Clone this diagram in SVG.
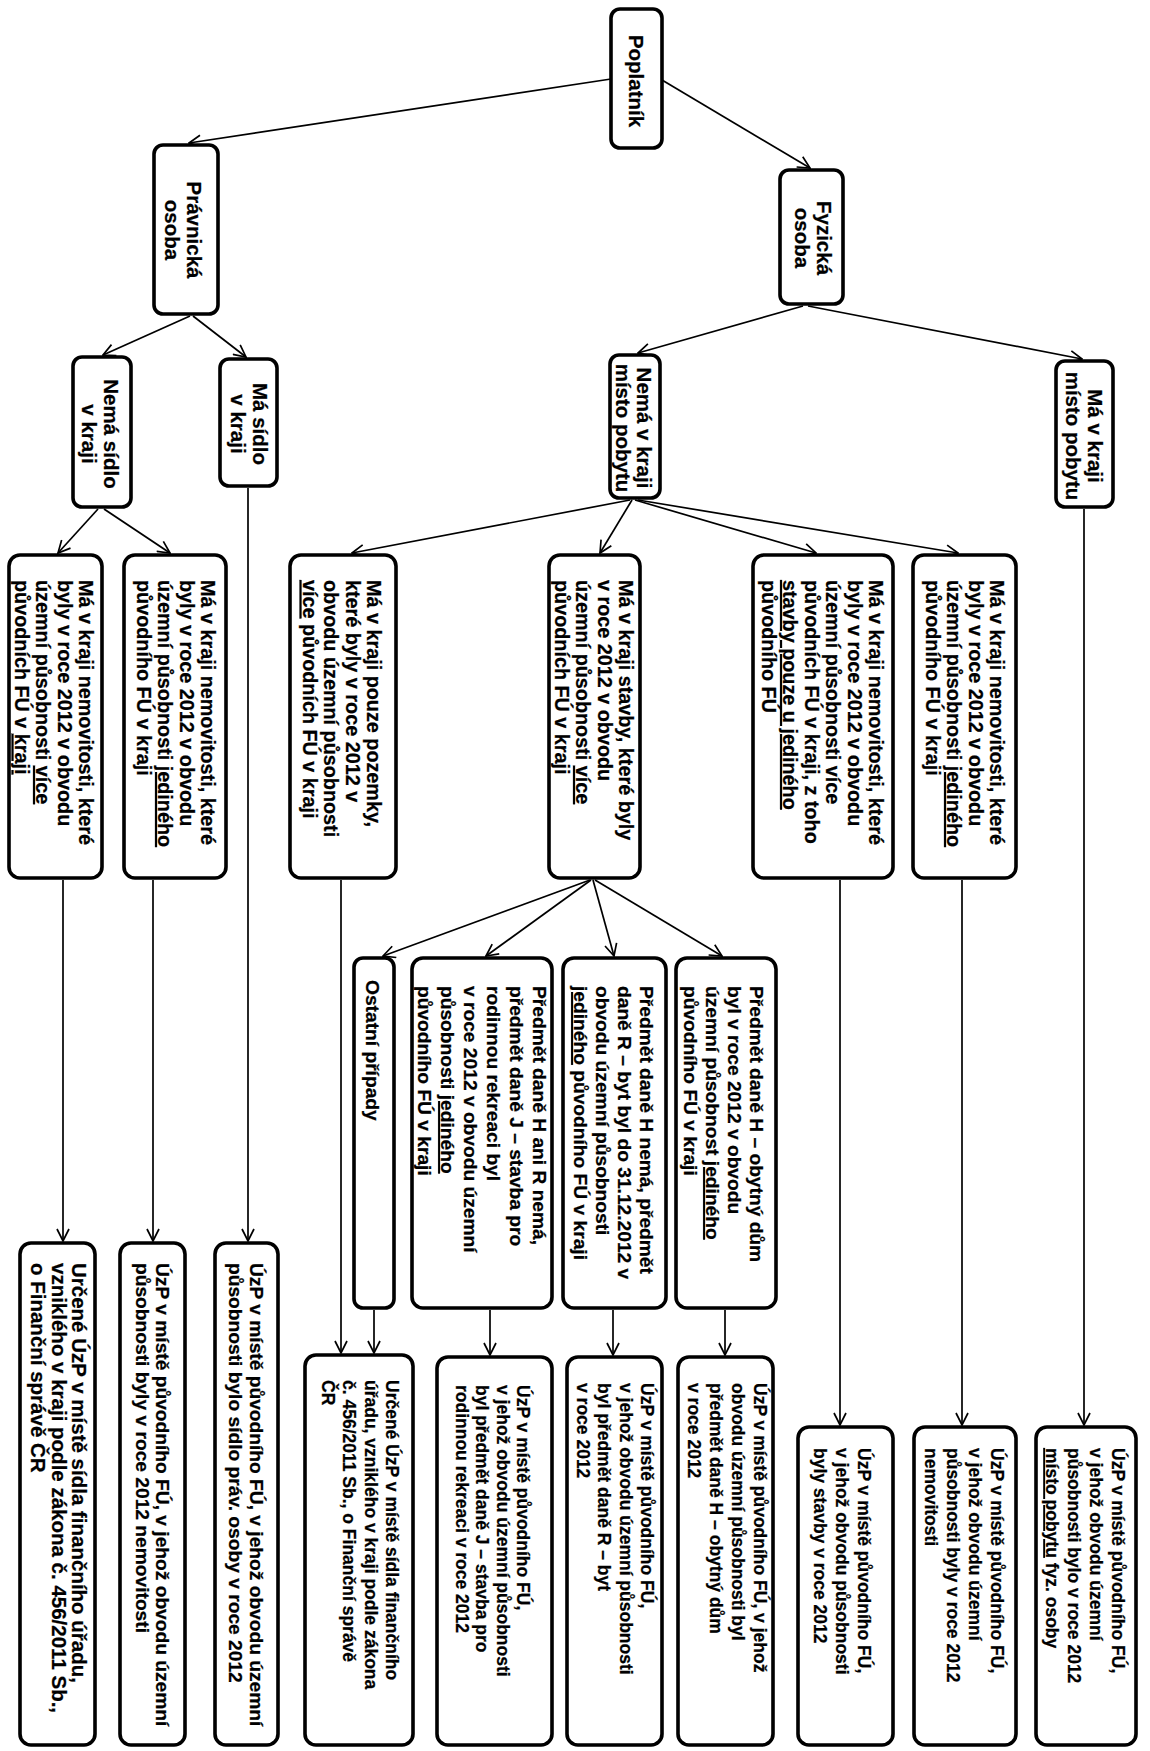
<svg xmlns="http://www.w3.org/2000/svg" width="1150" height="1751" viewBox="0 0 1150 1751">
<style>
.n rect{fill:#fff;stroke:#000;stroke-width:3.6}
text{font-family:"Liberation Sans",Arial,Helvetica,sans-serif;font-weight:bold;fill:#000;stroke:#000;stroke-width:0.25px}
.f20{font-size:20.5px}
.f19{font-size:19.8px}
.f19b{font-size:19.2px}
.f18{font-size:17.5px}
.u{text-decoration:underline}
#connectors path{fill:none;stroke:#000;stroke-width:1.7;marker-end:url(#ah)}
</style>
<defs>
<marker id="ah" viewBox="0 0 14 14" refX="13" refY="7" markerWidth="14" markerHeight="14" markerUnits="userSpaceOnUse" orient="auto">
<path d="M1,1 L13,7 L1,13" fill="none" stroke="#000" stroke-width="1.7"/>
</marker>
</defs>
<rect x="0" y="0" width="1150" height="1751" fill="#fff"/>

<g id="connectors">
<path d="M611,79 L189,143"/>
<path d="M662,80 L810,168"/>
<path d="M190,316 L103,355"/>
<path d="M193,316 L246,357"/>
<path d="M803,306 L638,353"/>
<path d="M808,306 L1082,359"/>
<path d="M98,509 L58,553"/>
<path d="M104,509 L170,553"/>
<path d="M630,500 L352,553"/>
<path d="M632,500 L600,553"/>
<path d="M635,500 L816,553"/>
<path d="M638,500 L958,553"/>
<path d="M590,880 L383,956"/>
<path d="M591,880 L486,956"/>
<path d="M593,880 L614,956"/>
<path d="M595,880 L722,956"/>
<path d="M63,880 L63,1241"/>
<path d="M153,880 L153,1241"/>
<path d="M248,488 L248,1241"/>
<path d="M341,880 L341,1353"/>
<path d="M374,1310 L374,1353"/>
<path d="M490,1310 L490,1355"/>
<path d="M613,1310 L613,1355"/>
<path d="M725,1310 L725,1355"/>
<path d="M840,880 L840,1425"/>
<path d="M962,880 L962,1425"/>
<path d="M1084,509 L1084,1425"/>
</g>

<g id="poplatnik" class="n"><rect x="611" y="9" width="51" height="139" rx="9"/>
<text class="f20" text-anchor="middle" transform="translate(629,81) rotate(90)">Poplatník</text></g>

<g id="pravnicka-osoba" class="n"><rect x="154" y="145" width="64" height="169" rx="9"/>
<text class="f20" text-anchor="middle" transform="translate(187,230) rotate(90)"><tspan x="0" y="0">Právnická</tspan><tspan x="0" y="22">osoba</tspan></text></g>

<g id="fyzicka-osoba" class="n"><rect x="780" y="170" width="63" height="134" rx="9"/>
<text class="f20" text-anchor="middle" transform="translate(817,238) rotate(90)"><tspan x="0" y="0">Fyzická</tspan><tspan x="0" y="22">osoba</tspan></text></g>

<g id="nema-sidlo" class="n"><rect x="73" y="357" width="58" height="150" rx="9"/>
<text class="f20" text-anchor="middle" transform="translate(104,434) rotate(90)"><tspan x="0" y="0">Nemá sídlo</tspan><tspan x="0" y="22">v kraji</tspan></text></g>

<g id="ma-sidlo" class="n"><rect x="220" y="359" width="57" height="127" rx="9"/>
<text class="f20" text-anchor="middle" transform="translate(253,424) rotate(90)"><tspan x="0" y="0">Má sídlo</tspan><tspan x="0" y="22">v kraji</tspan></text></g>

<g id="nema-pobyt" class="n"><rect x="610" y="355" width="50" height="143" rx="9"/>
<text class="f20" text-anchor="middle" transform="translate(637,428) rotate(90)"><tspan x="0" y="0">Nemá v kraji</tspan><tspan x="0" y="21">místo pobytu</tspan></text></g>

<g id="ma-pobyt" class="n"><rect x="1056" y="361" width="57" height="146" rx="9"/>
<text class="f20" text-anchor="middle" transform="translate(1088,436) rotate(90)"><tspan x="0" y="0">Má v kraji</tspan><tspan x="0" y="22">místo pobytu</tspan></text></g>

<g id="r2-nemovitosti-vice" class="n"><rect x="9" y="555" width="93" height="323" rx="11"/>
<text class="f19" transform="translate(79,580) rotate(90)"><tspan x="0" y="0">Má v kraji nemovitosti, které</tspan><tspan x="0" y="21.5">byly v roce 2012 v obvodu</tspan><tspan x="0" y="43">územní působnosti <tspan class="u">více</tspan></tspan><tspan x="0" y="64.5">původních FÚ v <tspan class="u">kraji</tspan></tspan></text></g>

<g id="r2-nemovitosti-jedineho" class="n"><rect x="124" y="555" width="102" height="323" rx="11"/>
<text class="f19" transform="translate(201,580) rotate(90)"><tspan x="0" y="0">Má v kraji nemovitosti, které</tspan><tspan x="0" y="21.5">byly v roce 2012 v obvodu</tspan><tspan x="0" y="43">územní působnosti <tspan class="u">jediného</tspan></tspan><tspan x="0" y="64.5">původního FÚ v kraji</tspan></text></g>

<g id="r2-pozemky" class="n"><rect x="290" y="555" width="106" height="323" rx="11"/>
<text class="f19" transform="translate(367,580) rotate(90)"><tspan x="0" y="0">Má v kraji pouze pozemky,</tspan><tspan x="0" y="21.5">které byly v roce 2012 v</tspan><tspan x="0" y="43">obvodu územní působnosti</tspan><tspan x="0" y="64.5"><tspan class="u">více</tspan> původních FÚ v kraji</tspan></text></g>

<g id="r2-stavby-vice" class="n"><rect x="549" y="555" width="91" height="323" rx="11"/>
<text class="f19" transform="translate(619,580) rotate(90)"><tspan x="0" y="0">Má v kraji stavby, které byly</tspan><tspan x="0" y="21.5">v roce 2012 v obvodu</tspan><tspan x="0" y="43">územní působnosti <tspan class="u">více</tspan></tspan><tspan x="0" y="64.5">původních FÚ v kraji</tspan></text></g>

<g id="r2-stavby-jedineho" class="n"><rect x="753" y="555" width="140" height="323" rx="11"/>
<text class="f19" transform="translate(869,580) rotate(90)"><tspan x="0" y="0">Má v kraji nemovitosti, které</tspan><tspan x="0" y="21.5">byly v roce 2012 v obvodu</tspan><tspan x="0" y="43">územní působnosti více</tspan><tspan x="0" y="64.5">původních FÚ v kraji, z toho</tspan><tspan x="0" y="86" class="u">stavby pouze u jediného</tspan><tspan x="0" y="107.5">původního FÚ</tspan></text></g>

<g id="r2-nemovitosti-jedineho-2" class="n"><rect x="913" y="555" width="103" height="323" rx="11"/>
<text class="f19" transform="translate(990,580) rotate(90)"><tspan x="0" y="0">Má v kraji nemovitosti, které</tspan><tspan x="0" y="21.5">byly v roce 2012 v obvodu</tspan><tspan x="0" y="43">územní působnosti <tspan class="u">jediného</tspan></tspan><tspan x="0" y="64.5">původního FÚ v kraji</tspan></text></g>

<g id="r3-ostatni" class="n"><rect x="354" y="958" width="40" height="350" rx="9"/>
<text class="f19b" transform="translate(366,980) rotate(90)">Ostatní případy</text></g>

<g id="r3-j" class="n"><rect x="412" y="958" width="140" height="350" rx="11"/>
<text class="f19b" transform="translate(533,986) rotate(90)"><tspan x="0" y="0">Předmět daně H ani R nemá,</tspan><tspan x="0" y="23">předmět daně J – stavba pro</tspan><tspan x="0" y="46">rodinnou rekreaci byl</tspan><tspan x="0" y="69">v roce 2012 v obvodu územní</tspan><tspan x="0" y="92">působnosti <tspan class="u">jediného</tspan></tspan><tspan x="0" y="115">původního FÚ v kraji</tspan></text></g>

<g id="r3-r" class="n"><rect x="563" y="958" width="103" height="350" rx="11"/>
<text class="f19b" transform="translate(640,986) rotate(90)"><tspan x="0" y="0">Předmět daně H nemá, předmět</tspan><tspan x="0" y="22">daně R – byt byl do 31.12.2012 v</tspan><tspan x="0" y="44">obvodu územní působnosti</tspan><tspan x="0" y="66"><tspan class="u">jediného</tspan> původního FÚ v kraji</tspan></text></g>

<g id="r3-h" class="n"><rect x="676" y="958" width="100" height="350" rx="11"/>
<text class="f19b" transform="translate(750,986) rotate(90)"><tspan x="0" y="0">Předmět daně H – obytný dům</tspan><tspan x="0" y="22">byl v roce 2012 v obvodu</tspan><tspan x="0" y="44">územní působnost <tspan class="u">jediného</tspan></tspan><tspan x="0" y="66">původního FÚ v kraji</tspan></text></g>

<g id="b1-urcene" class="n"><rect x="20" y="1243" width="75" height="502" rx="11"/>
<text class="f20" transform="translate(72,1263) rotate(90)"><tspan x="0" y="0">Určené ÚzP v místě sídla finančního úřadu,</tspan><tspan x="0" y="20.5">vzniklého v kraji podle zákona č. 456/2011 Sb.,</tspan><tspan x="0" y="41">o Finanční správě ČR</tspan></text></g>

<g id="b2-nemovitosti" class="n"><rect x="120" y="1243" width="65" height="502" rx="11"/>
<text class="f19b" transform="translate(156,1263) rotate(90)"><tspan x="0" y="0">ÚzP v místě původního FÚ, v jehož obvodu územní</tspan><tspan x="0" y="20.5">působnosti byly v roce 2012 nemovitosti</tspan></text></g>

<g id="b3-sidlo" class="n"><rect x="215" y="1243" width="63" height="502" rx="11"/>
<text class="f19b" transform="translate(250,1263) rotate(90)"><tspan x="0" y="0">ÚzP v místě původního FÚ, v jehož obvodu územní</tspan><tspan x="0" y="21">působnosti bylo sídlo práv. osoby v roce 2012</tspan></text></g>

<g id="b4-urcene" class="n"><rect x="305" y="1355" width="108" height="390" rx="11"/>
<text class="f18" transform="translate(386,1380) rotate(90)"><tspan x="0" y="0">Určené ÚzP v místě sídla finančního</tspan><tspan x="0" y="21.5">úřadu, vzniklého v kraji podle zákona</tspan><tspan x="0" y="43">č. 456/2011 Sb., o Finanční správě</tspan><tspan x="0" y="64.5">ČR</tspan></text></g>

<g id="b5-j" class="n"><rect x="437" y="1357" width="115" height="388" rx="11"/>
<text class="f18" transform="translate(517,1385) rotate(90)"><tspan x="0" y="0">ÚzP v místě původního FÚ,</tspan><tspan x="0" y="20.5">v jehož obvodu územní působnosti</tspan><tspan x="0" y="41">byl předmět daně J – stavba pro</tspan><tspan x="0" y="61.5">rodinnou rekreaci v roce 2012</tspan></text></g>

<g id="b6-r" class="n"><rect x="567" y="1357" width="95" height="388" rx="11"/>
<text class="f18" transform="translate(641,1383) rotate(90)"><tspan x="0" y="0">ÚzP v místě původního FÚ,</tspan><tspan x="0" y="21.5">v jehož obvodu územní působnosti</tspan><tspan x="0" y="43">byl předmět daně R – byt</tspan><tspan x="0" y="64.5">v roce 2012</tspan></text></g>

<g id="b7-h" class="n"><rect x="678" y="1357" width="95" height="388" rx="11"/>
<text class="f18" transform="translate(754,1383) rotate(90)"><tspan x="0" y="0">ÚzP v místě původního FÚ, v jehož</tspan><tspan x="0" y="22">obvodu územní působnosti byl</tspan><tspan x="0" y="44">předmět daně H – obytný dům</tspan><tspan x="0" y="66">v roce 2012</tspan></text></g>

<g id="b8-stavby" class="n"><rect x="798" y="1427" width="95" height="318" rx="11"/>
<text class="f18" transform="translate(858,1448) rotate(90)"><tspan x="0" y="0">ÚzP v místě původního FÚ,</tspan><tspan x="0" y="22">v jehož obvodu působnosti</tspan><tspan x="0" y="44">byly stavby v roce 2012</tspan></text></g>

<g id="b9-nemovitosti" class="n"><rect x="914" y="1427" width="102" height="318" rx="11"/>
<text class="f18" transform="translate(991,1448) rotate(90)"><tspan x="0" y="0">ÚzP v místě původního FÚ,</tspan><tspan x="0" y="22">v jehož obvodu územní</tspan><tspan x="0" y="44">působnosti byly v roce 2012</tspan><tspan x="0" y="66">nemovitosti</tspan></text></g>

<g id="b10-pobyt" class="n"><rect x="1036" y="1427" width="100" height="318" rx="11"/>
<text class="f18" transform="translate(1112,1448) rotate(90)"><tspan x="0" y="0">ÚzP v místě původního FÚ,</tspan><tspan x="0" y="22">v jehož obvodu územní</tspan><tspan x="0" y="44">působnosti bylo v roce 2012</tspan><tspan x="0" y="66"><tspan class="u">místo pobytu</tspan> fyz. osoby</tspan></text></g>
</svg>
